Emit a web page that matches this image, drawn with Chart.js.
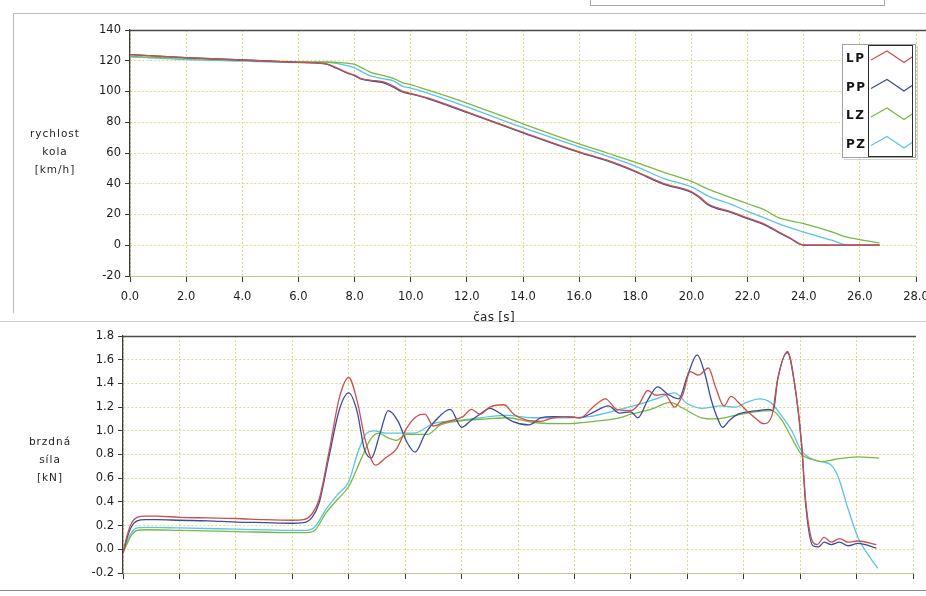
<!DOCTYPE html>
<html lang="cs">
<head>
<meta charset="utf-8">
<title>rychlost kola a brzdná síla</title>
<script src="https://cdn.jsdelivr.net/npm/chart.js@4.4.1/dist/chart.umd.min.js"></script>
<style>
  html, body { margin: 0; padding: 0; background: #fff; }
  body { position: relative; width: 926px; height: 596px; overflow: hidden; font-family: "DejaVu Sans", sans-serif; }
  canvas { position: absolute; left: 0; }
  #speedChart { top: 0; }
  #forceChart { top: 310px; }
  .title { position: absolute; color: #1f1f1f; font-size: 10.5px; letter-spacing: 1px; text-align: center; line-height: 18px; width: 90px; white-space: nowrap; }
  .rule { position: absolute; background: #bdbdbd; }
</style>
</head>
<body>
  <!-- page frame lines -->
  <div class="rule" style="left:13px; top:13px; width:913px; height:1px;"></div>
  <div class="rule" style="left:13px; top:13px; width:1px; height:300px;"></div>
  <div class="rule" style="left:590px; top:0; width:1px; height:5px; background:#a8a8a8;"></div>
  <div class="rule" style="left:884px; top:0; width:1px; height:5px; background:#a8a8a8;"></div>
  <div class="rule" style="left:590px; top:5px; width:295px; height:1px; background:#a8a8a8;"></div>
  <div class="rule" style="left:0; top:321px; width:926px; height:1px; background:#cfcfcf;"></div>
  <div class="rule" style="left:0; top:590px; width:926px; height:1px; background:#8a8a8a;"></div>

  <canvas id="speedChart" width="926" height="310"></canvas>
  <canvas id="forceChart" width="926" height="286"></canvas>

  <div class="title" style="left:10px; top:124px;">rychlost<br>kola<br>[km/h]</div>
  <div class="title" style="left:5px; top:432px;">brzdná<br>síla<br>[kN]</div>
  <div class="title" style="left:444px; top:308px; font-size:12px; letter-spacing:0.3px; width:100px;">čas [s]</div>

<script>
// ---- wheel speed [km/h] over time [s] ----
const lpSpeedT = [0, 2, 4, 6, 6.6, 7, 7.35, 7.7, 8.0, 8.25, 8.6, 9.0, 9.4, 9.7, 10.0, 10.6, 12, 14, 16, 17, 18, 19, 20, 20.3, 20.6, 21.4, 22, 22.6, 23.1, 23.5, 24.0, 25, 26, 26.7];
const lpSpeed  = [124, 122, 120.5, 119, 118.6, 118, 115.6, 112.6, 110.6, 108.3, 107.3, 106.4, 103.3, 100.3, 98.8, 95.8, 86.8, 73.5, 60.8, 55.3, 48.3, 40.3, 34.8, 31.3, 26.8, 21.8, 17.8, 13.8, 8.8, 4.9, 0.2, 0, 0, 0];
const ppSpeedT = lpSpeedT;
const ppSpeed  = [124, 122, 120.5, 119, 118.6, 117.8, 115.2, 112.2, 110.2, 108, 106.8, 105.8, 102.6, 99.8, 98.4, 95.4, 86.4, 73.1, 60.4, 54.8, 47.8, 39.8, 34.4, 30.8, 26.3, 21.3, 17.3, 13.3, 8.4, 4.6, 0, 0, 0, 0];
const lzSpeedT = [0, 2, 4, 6, 7, 7.5, 8, 8.3, 8.6, 9.0, 9.4, 9.7, 10, 10.6, 12, 14, 16, 17, 18, 19, 20, 20.6, 21.4, 22, 22.6, 23.1, 24, 25, 25.5, 26, 26.7];
const lzSpeed  = [122.8, 121.5, 120.3, 119.3, 119.2, 118.8, 117.6, 115, 112.3, 110.5, 108.4, 105.8, 104.4, 101, 92.5, 79, 66, 60, 54, 47.5, 41.5, 36.5, 31, 27, 23, 18, 14, 8.7, 5.5, 3.7, 1.5];
const pzSpeedT = lzSpeedT;
const pzSpeed  = [122.5, 120.8, 119.8, 118.8, 118.9, 117.8, 115.4, 112.5, 110, 108.4, 106.8, 103.5, 102.2, 99, 90, 76.5, 64, 58, 51.5, 43.5, 38, 32, 26.7, 22, 17.8, 14, 8.5, 3.3, 0.3, 0, 0];

// ---- braking force [kN] over time [s] ----
const lpForceT = [0, 0.15, 0.3, 0.5, 0.8, 1.2, 2, 3, 4, 5,
  6, 6.4, 6.7, 6.95, 7.3, 7.67, 8.0, 8.3, 8.6, 8.95,
  9.3, 9.7, 10.05, 10.4, 10.7, 11.0, 11.35, 11.7, 12.05, 12.35,
  12.65, 13.0, 13.5, 13.85, 14.3, 14.8, 15.25, 15.7, 16.2, 16.7,
  17.1, 17.5, 18.0, 18.3, 18.6, 18.9, 19.2, 19.55, 19.85, 20.1,
  20.4, 20.75, 21.0, 21.3, 21.55, 21.85, 22.15, 22.45, 22.7, 23.0,
  23.2, 23.55, 23.8, 24.05, 24.2, 24.45, 24.6, 24.85, 25.1, 25.4,
  25.7, 26.05, 26.7];
const lpForce = [-0.03, 0.12, 0.22, 0.27, 0.28, 0.28, 0.27, 0.265, 0.26, 0.25,
  0.245, 0.25, 0.3, 0.42, 0.82, 1.28, 1.45, 1.25, 0.91, 0.71,
  0.77, 0.85, 1.02, 1.12, 1.14, 1.04, 1.07, 1.09, 1.12, 1.18,
  1.14, 1.2, 1.22, 1.14, 1.09, 1.08, 1.11, 1.12, 1.11, 1.21,
  1.27, 1.18, 1.17, 1.23, 1.34, 1.3, 1.31, 1.2, 1.31, 1.5,
  1.47, 1.53, 1.37, 1.21, 1.29, 1.23, 1.16, 1.1, 1.06, 1.13,
  1.43, 1.67, 1.4, 0.89, 0.4, 0.06, 0.04, 0.1, 0.06, 0.09,
  0.06, 0.07, 0.04];
const ppForceT = [0, 0.15, 0.3, 0.5, 0.8, 1.2, 2, 3, 4, 5,
  6, 6.4, 6.7, 6.95, 7.3, 7.67, 8.0, 8.3, 8.55, 8.8,
  9.1, 9.4, 9.75, 10.05, 10.35, 10.7, 11.05, 11.6, 12.0, 12.3,
  12.65, 13.0, 13.35, 13.8, 14.4, 14.8, 15.25, 15.7, 16.2, 16.7,
  17.2, 17.6, 18.0, 18.25, 18.6, 18.95, 19.3, 19.7, 20.0, 20.35,
  20.6, 20.85, 21.1, 21.25, 21.5, 21.8, 22.15, 22.5, 22.9, 23.05,
  23.2, 23.55, 23.8, 24.05, 24.2, 24.45, 24.65, 24.85, 25.1, 25.4,
  25.7, 26.05, 26.7];
const ppForce = [-0.03, 0.1, 0.19, 0.24, 0.25, 0.25, 0.245, 0.24, 0.23, 0.225,
  0.22, 0.225, 0.27, 0.39, 0.78, 1.18, 1.32, 1.16, 0.85, 0.77,
  0.97, 1.17, 1.08, 0.91, 0.82, 0.97, 1.08, 1.18, 1.03, 1.08,
  1.14, 1.19, 1.15, 1.08, 1.05, 1.11, 1.12, 1.12, 1.11, 1.16,
  1.21, 1.15, 1.16, 1.11, 1.26, 1.37, 1.31, 1.27, 1.46, 1.64,
  1.5, 1.26, 1.09, 1.03, 1.09, 1.14, 1.16, 1.17, 1.18, 1.17,
  1.43, 1.66, 1.4, 0.89, 0.37, 0.03, 0.02, 0.06, 0.04, 0.06,
  0.03, 0.05, 0.01];
const lzForceT = [0, 0.15, 0.3, 0.5, 0.8, 2, 4, 6, 6.5, 6.8,
  7.2, 7.6, 8.0, 8.4, 8.75, 9.05, 9.4, 9.7, 10.05, 10.8,
  11.25, 12.2, 12.9, 13.6, 14.55, 15.7, 16.7, 17.6, 18.0, 18.7,
  19.4, 19.85, 20.5, 21.0, 21.7, 22.4, 23.0, 23.35, 23.7, 24.05,
  24.4, 24.75, 25.25, 26.05, 26.8];
const lzForce = [-0.03, 0.05, 0.12, 0.16, 0.165, 0.16, 0.15, 0.14, 0.14, 0.16,
  0.31, 0.42, 0.53, 0.74, 0.92, 0.98, 0.94, 0.92, 0.97, 0.97,
  1.05, 1.09, 1.1, 1.11, 1.07, 1.06, 1.08, 1.11, 1.14, 1.18,
  1.24, 1.19, 1.11, 1.1, 1.13, 1.16, 1.17, 1.09, 0.94, 0.8,
  0.76, 0.74, 0.76, 0.78, 0.77];
const pzForceT = [0, 0.15, 0.3, 0.5, 0.8, 2, 4, 6, 6.5, 6.8,
  7.2, 7.6, 8.0, 8.3, 8.6, 8.9, 9.3, 9.8, 10.3, 11.0,
  12.0, 13.0, 13.6, 14.55, 15.5, 16.5, 17.6, 18.1, 18.9, 19.55,
  20.0, 20.5, 21.2, 21.7, 22.1, 22.55, 22.95, 23.3, 23.7, 24.05,
  24.35, 24.75, 25.1, 25.35, 25.7, 26.05, 26.45, 26.75];
const pzForce = [-0.03, 0.07, 0.14, 0.18, 0.185, 0.18, 0.17, 0.16, 0.16, 0.19,
  0.34, 0.46, 0.57, 0.8, 0.97, 1.0, 0.98, 0.98, 0.98, 1.06,
  1.09, 1.12, 1.13, 1.11, 1.11, 1.12, 1.18, 1.21, 1.27, 1.32,
  1.23, 1.19, 1.21, 1.2, 1.24, 1.27, 1.24, 1.14, 1.0, 0.83,
  0.77, 0.74, 0.71, 0.61, 0.34, 0.1, -0.06, -0.16];

// series names and axis ranges
const seriesNames = ['LP', 'PP', 'LZ', 'PZ'];
const seriesColors = ['#c9504c', '#3b4c9c', '#78b944', '#5ac4e4'];
const timeRange = [0, 28, 2];
const speedRange = [-20, 140, 20];
const forceRange = [-0.2, 1.8, 0.2];

const pts = (ts, vs) => ts.map((t, i) => ({ x: t, y: vs[i] }));

function makeDatasets(pairs) {
  return pairs.map(([ts, vs], i) => ({
    label: seriesNames[i],
    data: pts(ts, vs),
    borderColor: seriesColors[i],
    borderWidth: 1.3,
    pointRadius: 0,
    fill: false,
    cubicInterpolationMode: 'monotone'
  }));
}

const FONT = '"DejaVu Sans", sans-serif';
const gridYellow = 'rgba(214, 204, 96, 0.75)';
const labelColor = '#1e1e1e';

// dark frame line along the top of the plotting area
const topFrame = {
  id: 'topFrame',
  afterDraw(chart, args, opts) {
    const { ctx, chartArea } = chart;
    ctx.save();
    ctx.strokeStyle = '#4a4a4a';
    ctx.lineWidth = 1.3;
    ctx.beginPath();
    ctx.moveTo(chartArea.left, chartArea.top + 0.5);
    ctx.lineTo(opts.toEdge ? chart.width : chartArea.right + 3, chartArea.top + 0.5);
    ctx.stroke();
    ctx.restore();
  }
};

// boxed legend with zig-zag line samples
const zigzagLegend = {
  id: 'zigzagLegend',
  afterDraw(chart, args, opts) {
    if (!opts.show) return;
    const ctx = chart.ctx;
    ctx.save();
    ctx.fillStyle = '#fff';
    ctx.fillRect(842, 44, 74, 114);
    ctx.lineWidth = 1;
    ctx.strokeStyle = '#a0a0a0';
    ctx.strokeRect(842.5, 44.5, 73, 113);
    ctx.strokeStyle = '#d2d2d2';
    ctx.beginPath();
    ctx.moveTo(917.5, 46); ctx.lineTo(917.5, 159.5); ctx.lineTo(844, 159.5);
    ctx.stroke();
    ctx.strokeStyle = '#2a2a2a';
    ctx.strokeRect(868.5, 45.5, 44, 111);
    ctx.font = 'bold 12px ' + FONT;
    ctx.textBaseline = 'middle';
    chart.data.datasets.forEach((ds, i) => {
      const y = 59 + i * 28.5;
      ctx.fillStyle = '#161616';
      let x = 846;
      for (const ch of ds.label) {
        ctx.fillText(ch, x, y);
        x += ctx.measureText(ch).width + 1.5;
      }
      ctx.strokeStyle = ds.borderColor;
      ctx.lineWidth = 1.2;
      ctx.beginPath();
      ctx.moveTo(871, y + 1);
      ctx.lineTo(887, y - 8);
      ctx.lineTo(904, y + 3.5);
      ctx.lineTo(912, y - 2);
      ctx.stroke();
    });
    ctx.restore();
  }
};

function makeChart(canvasId, datasets, yRange, cfg) {
  return new Chart(document.getElementById(canvasId), {
    type: 'line',
    data: { datasets },
    plugins: [topFrame, zigzagLegend],
    options: {
      responsive: false,
      devicePixelRatio: 1,
      animation: false,
      events: [],
      layout: { padding: cfg.padding },
      plugins: {
        legend: { display: false },
        tooltip: { enabled: false },
        topFrame: { toEdge: cfg.frameToEdge },
        zigzagLegend: { show: cfg.legend }
      },
      scales: {
        x: {
          type: 'linear',
          min: timeRange[0], max: timeRange[1],
          grid: { color: gridYellow, lineWidth: 1, tickColor: '#3a3a3a', tickLength: 6, tickWidth: 1 },
          border: { display: true, color: 'rgba(190, 184, 130, 0.8)', width: 1, dash: [2, 2] },
          ticks: {
            stepSize: timeRange[2],
            autoSkip: false,
            maxRotation: 0,
            padding: 8,
            color: labelColor,
            font: { family: FONT, size: 11.5 },
            callback: cfg.xLabels ? (v => Number(v).toFixed(1)) : (() => '')
          },
          afterFit(scale) {
            scale.height = cfg.xHeight;
            scale.paddingLeft = 0;
            scale.paddingRight = 0;
          }
        },
        y: {
          min: yRange[0], max: yRange[1],
          grid: { color: gridYellow, lineWidth: 1, tickColor: '#3a3a3a', tickLength: 5, tickWidth: 1 },
          border: { display: true, color: '#3a3a3a', width: 1.3, dash: [2, 2] },
          ticks: {
            stepSize: yRange[2],
            padding: 4,
            color: labelColor,
            font: { family: FONT, size: 11.5 },
            callback: cfg.yFormat
          },
          afterFit(scale) { scale.width = cfg.yWidth; }
        }
      }
    }
  });
}

makeChart('speedChart',
  makeDatasets([[lpSpeedT, lpSpeed], [ppSpeedT, ppSpeed], [lzSpeedT, lzSpeed], [pzSpeedT, pzSpeed]]),
  speedRange,
  {
    padding: { left: 0, top: 30, right: 10, bottom: 0 },
    xHeight: 34, yWidth: 130, xLabels: true, legend: true, frameToEdge: true,
    yFormat: v => String(Math.round(v))
  });

makeChart('forceChart',
  makeDatasets([[lpForceT, lpForce], [ppForceT, ppForce], [lzForceT, lzForce], [pzForceT, pzForce]]),
  forceRange,
  {
    padding: { left: 0, top: 26, right: 13, bottom: 0 },
    xHeight: 23, yWidth: 123, xLabels: false, legend: false, frameToEdge: false,
    yFormat: v => Number(v).toFixed(1)
  });
</script>
</body>
</html>
